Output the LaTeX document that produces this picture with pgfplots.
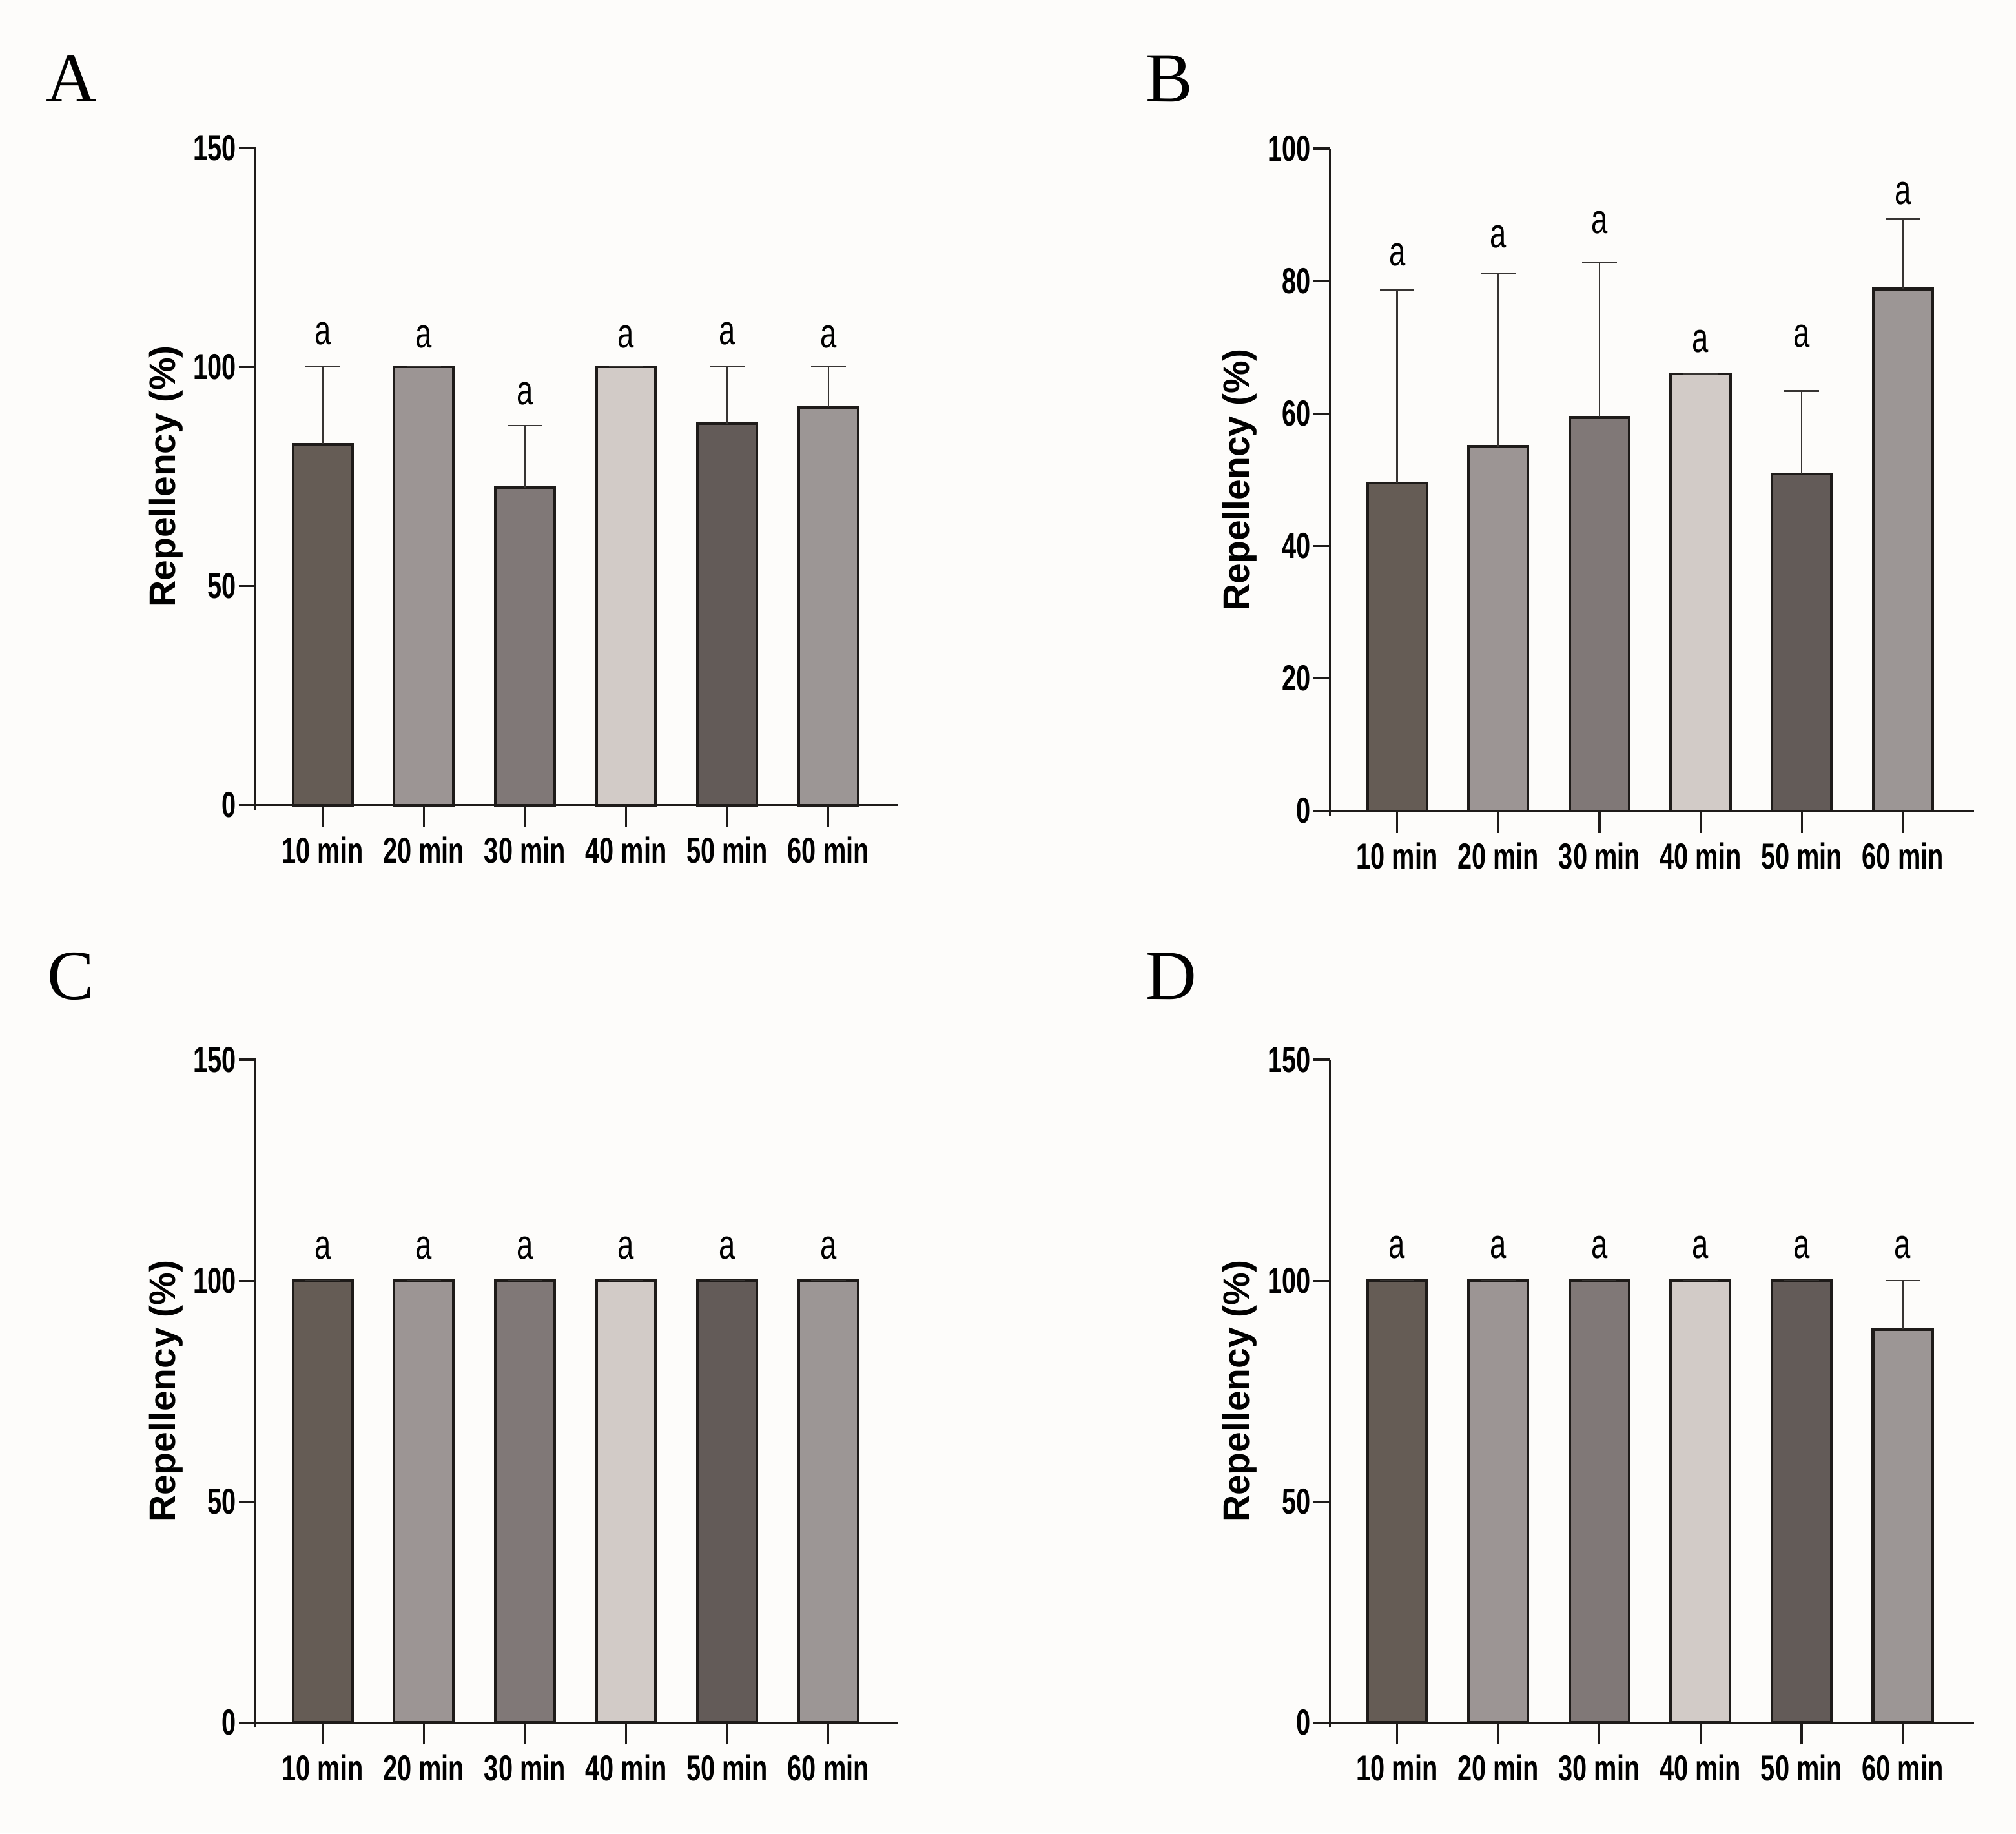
\documentclass[border=0pt]{standalone}
\usepackage{fontspec}
\setmainfont{Liberation Sans}
\newfontfamily\narrowsans[FakeStretch=0.71]{Liberation Sans}
\newfontfamily\serifpanel{Liberation Serif}
\usepackage{pgfplots}
\usepackage{pgfplotstable}
\pgfplotsset{compat=1.18}

\definecolor{bg}{RGB}{253,252,250}
\definecolor{bar0}{RGB}{101,92,85}
\definecolor{bar1}{RGB}{156,149,148}
\definecolor{bar2}{RGB}{128,120,119}
\definecolor{bar3}{RGB}{210,203,199}
\definecolor{bar4}{RGB}{99,91,88}
\definecolor{bar5}{RGB}{156,150,149}
\definecolor{edge}{RGB}{30,27,25}
\definecolor{errc}{RGB}{55,52,50}

% x = bar index, y = mean, e = error (upper), ay = height of the letter
\pgfplotstableread{
x y e ay lab
0 82.4 17.6 107.6 a
1 100 0 106.8 a
2 72.5 14.1 93.9 a
3 100 0 106.8 a
4 87.1 12.9 107.6 a
5 90.7 9.3 106.8 a
}\tabA
\pgfplotstableread{
x y e ay lab
0 49.5 29.2 84.0 a
1 55.0 26.1 86.7 a
2 59.4 23.4 88.8 a
3 66.0 0 70.9 a
4 50.9 12.5 71.7 a
5 78.8 10.6 93.2 a
}\tabB
\pgfplotstableread{
x y e ay lab
0 100 0 107.4 a
1 100 0 107.4 a
2 100 0 107.4 a
3 100 0 107.4 a
4 100 0 107.4 a
5 100 0 107.4 a
}\tabC
\pgfplotstableread{
x y e ay lab
0 100 0 107.5 a
1 100 0 107.5 a
2 100 0 107.5 a
3 100 0 107.5 a
4 100 0 107.5 a
5 89.0 11.0 107.5 a
}\tabD

\pgfplotsset{
  panel/.style={
    scale only axis, clip=false,
    axis lines=left,
    axis line style={-, line width=0.32pt, draw=edge},
    y axis line style={shorten <=-0.8pt},
    enlargelimits=false, ymin=0,
    xtick={0,...,5},
    xticklabels={10 min,20 min,30 min,40 min,50 min,60 min},
    tick align=outside,
    tick style={line width=0.32pt, draw=edge},
    xtick style={/pgfplots/major tick length=3.4pt},
    ytick style={/pgfplots/major tick length=2.6pt},
    /pgf/number format/assume math mode=true,
    ticklabel style={font=\fontsize{5.6}{6.7}\narrowsans\bfseries, inner sep=0pt},
    xticklabel style={anchor=north, yshift=-0.5pt},
    yticklabel style={anchor=east, xshift=1.5pt},
    ylabel={Repellency (\%)},
    ylabel style={font=\fontsize{5.7}{6.8}\selectfont\bfseries, at={(axis description cs:-0.140,0.5)}, anchor=center},
  },
}

\newcommand{\drawbars}[1]{%
  \pgfplotsinvokeforeach{0,...,5}{%
    \addplot[ybar, bar width=9.2pt, bar shift=0pt, fill=bar##1, draw=edge, line width=0.42pt,
      restrict x to domain=##1:##1,
      error bars/.cd, y dir=plus, y explicit,
      error bar style={line width=0.25pt, draw=errc},
      error mark options={rotate=90, line width=0.25pt, mark size=2.67pt, draw=errc}]
      table[x=x, y=y, y error=e] {#1};
  }%
  \addplot[draw=none, nodes near coords, point meta=explicit symbolic,
    nodes near coords style={anchor=center, font=\fontsize{6.4}{7.7}\narrowsans, inner sep=0pt, text=black}]
    table[x=x, y=ay, meta=lab] {#1};
}

\begin{document}
\begin{tikzpicture}
\path[use as bounding box, fill=bg] (0,0) rectangle (312.2pt,283.9pt);

% Panel A
\begin{axis}[panel, at={(39.57pt,159.23pt)}, anchor=south west,
  width=99.54pt, height=101.77pt, xmin=-0.664, xmax=5.692, ymax=150, ytick={0,50,100,150}]
  \drawbars{\tabA}
\end{axis}

% Panel B
\begin{axis}[panel, at={(205.95pt,158.33pt)}, anchor=south west,
  width=99.75pt, height=102.57pt, xmin=-0.665, xmax=5.704, ymax=100, ytick={0,20,...,100}]
  \drawbars{\tabB}
\end{axis}

% Panel C
\begin{axis}[panel, at={(39.57pt,17.17pt)}, anchor=south west,
  width=99.54pt, height=102.63pt, xmin=-0.664, xmax=5.692, ymax=150, ytick={0,50,100,150}]
  \drawbars{\tabC}
\end{axis}

% Panel D
\begin{axis}[panel, at={(205.93pt,17.17pt)}, anchor=south west,
  width=99.74pt, height=102.63pt, xmin=-0.665, xmax=5.704, ymax=150, ytick={0,50,100,150}]
  \drawbars{\tabD}
\end{axis}

\node[anchor=base west, inner sep=0pt, font=\fontsize{10.9}{13}\serifpanel] at (7.0pt,268.1pt) {A};
\node[anchor=base west, inner sep=0pt, font=\fontsize{10.9}{13}\serifpanel] at (177.2pt,268.1pt) {B};
\node[anchor=base west, inner sep=0pt, font=\fontsize{10.9}{13}\serifpanel] at (7.2pt,129.2pt) {C};
\node[anchor=base west, inner sep=0pt, font=\fontsize{10.9}{13}\serifpanel] at (177.2pt,129.2pt) {D};
\end{tikzpicture}
\end{document}
